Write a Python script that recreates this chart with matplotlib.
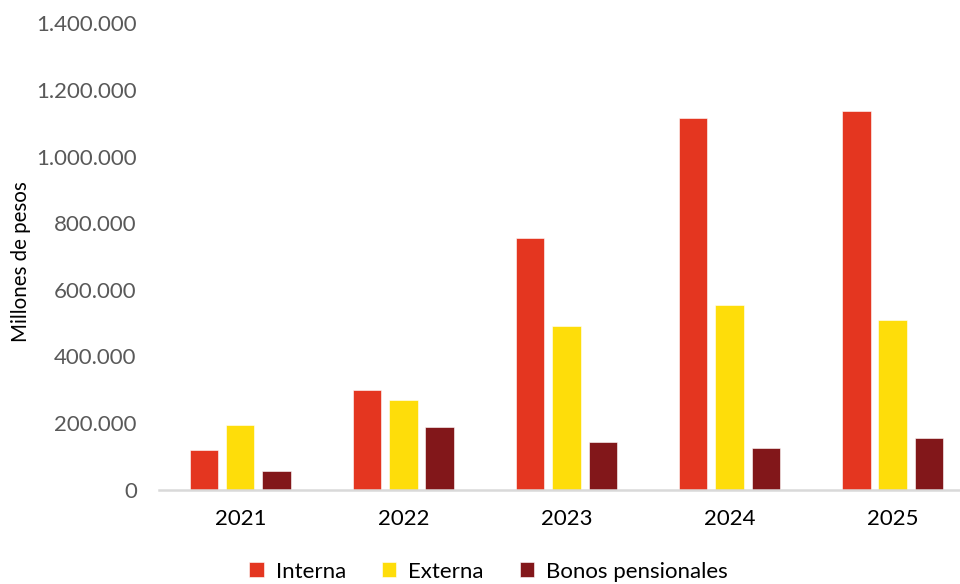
import numpy as np
import matplotlib
matplotlib.use("Agg")
import matplotlib.pyplot as plt
from matplotlib.ticker import FuncFormatter

# Values (millones de pesos)
years = ["2021", "2022", "2023", "2024", "2025"]
interna = [118000, 298000, 756000, 1117000, 1138000]
externa = [193000, 270000, 490000, 553000, 510000]
bonos = [55000, 187000, 143000, 124000, 154000]

series = [
    ("Interna", interna, "#E43620"),
    ("Externa", externa, "#FEDD0A"),
    ("Bonos pensionales", bonos, "#82171A"),
]

plt.rcParams["font.family"] = ["Lato", "DejaVu Sans"]

fig = plt.figure(figsize=(9.6, 5.84), dpi=100)
ax = fig.add_axes([0.1656, 0.1618, 0.8344, 0.798])

x = np.arange(len(years))
width = 0.172
offset = 0.221
for i, (name, vals, color) in enumerate(series):
    ax.bar(x + (i - 1) * offset, vals, width, color=color, label=name,
           edgecolor="white", linewidth=0.4)

ax.set_xlim(-0.5, 4.414)
ax.set_ylim(0, 1400000)
ax.set_yticks(np.arange(0, 1400001, 200000))
ax.yaxis.set_major_formatter(FuncFormatter(lambda v, p: f"{int(v):,}".replace(",", ".")))
ax.set_xticks(x)
ax.set_xticklabels(years)

for side in ["top", "right", "left"]:
    ax.spines[side].set_visible(False)
ax.spines["bottom"].set_color("#D9D9D9")
ax.spines["bottom"].set_linewidth(1.8)
ax.tick_params(axis="both", length=0)
ax.tick_params(axis="y", labelsize=16, labelcolor="#595959", pad=16)
ax.tick_params(axis="x", labelsize=16, labelcolor="#000000", pad=14)

fig.text(0.022, 0.552, "Millones de pesos", rotation=90, fontsize=14.8,
         ha="center", va="center")

fig.legend(loc="lower center", bbox_to_anchor=(0.509, -0.03), ncol=3,
           frameon=False, fontsize=16, handlelength=0.65, handleheight=0.65,
           columnspacing=1.6, handletextpad=0.55)

fig.savefig("out.png", dpi=100)
